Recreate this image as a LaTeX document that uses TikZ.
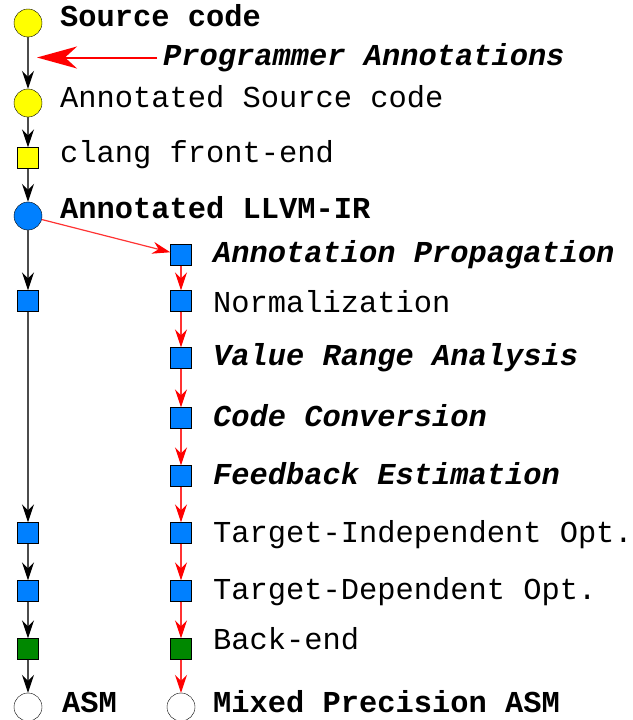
\documentclass[tikz,border=0pt]{standalone}
\usepackage{fontspec}
\setmainfont{Liberation Mono}
\usetikzlibrary{positioning, arrows.meta}

\definecolor{srcyellow}{RGB}{255,255,0}
\definecolor{irblue}{RGB}{0,128,255}
\definecolor{begreen}{RGB}{0,136,0}

\begin{document}
\begin{tikzpicture}[x=1pt, y=-1pt, font=\fontsize{30.4}{36}\selectfont,
    dot/.style={circle, draw, inner sep=0pt, minimum size=28pt},
    box/.style={rectangle, draw, inner sep=0pt, minimum size=21pt, fill=irblue},
    lbl/.style={anchor=base west, inner sep=0pt},
    key/.style={lbl, font=\fontsize{30.4}{36}\selectfont\bfseries},
    newpass/.style={lbl, font=\fontsize{30.4}{36}\selectfont\bfseries\itshape},
    flow/.style={draw=black!70, line width=1.2pt, -{Stealth[length=18pt, width=12pt, inset=6pt, color=black]}},
    tflow/.style={draw=red!80, line width=1.2pt, -{Stealth[length=18pt, width=12pt, inset=6pt, color=red]}}]
  \useasboundingbox (0,0) rectangle (632,720);

  % Front-end
  \node[dot, fill=srcyellow] (src) at (28,23) {};
  \node[dot, fill=srcyellow] (asrc) at (28,103) {};
  \node[box, fill=srcyellow] (clang) at (28,158) {};
  \node[dot, fill=irblue] (llvm) at (28,216) {};

  \node[key] (srcl) at (60,27) {Source code};
  \node[lbl] (asrcl) at (60,107) {Annotated Source code};
  \node[lbl] (clangl) at (60,162) {clang front-end};
  \node[key] (llvml) at (60,218) {Annotated LLVM-IR};

  % Programmer annotations
  \coordinate (hook) at (37,57.5);
  \node[newpass] (annot) at (163,65) {Programmer Annotations};

  % Plain pipeline
  \foreach \y/\name in {301/l1, 533/l2, 591/l3}
    \node[box] (\name) at (28,\y) {};
  \node[box, fill=begreen] (lbe) at (28,649) {};
  \node[dot, fill=white] (asm) at (28,707) {};
  \node[key] (asml) at (62,712) {ASM};

  % Mixed precision pipeline
  \foreach \y/\name in {255/ap, 301/norm, 358/vra, 418/cc, 476/fe, 533/tio, 591/tdo}
    \node[box] (\name) at (181,\y) {};
  \node[box, fill=begreen] (rbe) at (181,649) {};
  \node[dot, fill=white] (masm) at (181,707) {};

  \node[newpass] (apl) at (213,262) {Annotation Propagation};
  \node[lbl] (norml) at (213,312) {Normalization};
  \node[newpass] (vral) at (213,365) {Value Range Analysis};
  \node[newpass] (ccl) at (213,426) {Code Conversion};
  \node[newpass] (fel) at (213,484) {Feedback Estimation};
  \node[lbl] (tiol) at (213,542) {Target-Independent Opt.};
  \node[lbl] (tdol) at (213,599) {Target-Dependent Opt.};
  \node[lbl] (rbel) at (213,649) {Back-end};
  \node[key] (masml) at (213,712) {Mixed Precision ASM};

  % Connectors
  \foreach \a/\b in {src/asrc, asrc/clang, clang/llvm, llvm/l1, l1/l2, l2/l3, l3/lbe, lbe/asm}
    \draw[flow] (\a) -- (\b);
  \foreach \a/\b in {llvm/ap, ap/norm, norm/vra, vra/cc, cc/fe, fe/tio, tio/tdo, tdo/rbe, rbe/masm}
    \draw[tflow] (\a) -- (\b);
  \draw[red, line width=2pt, -{Stealth[length=40pt, width=22pt, inset=12pt]}]
    ([xshift=-6pt]annot.west |- hook) -- (hook);
\end{tikzpicture}
\end{document}
